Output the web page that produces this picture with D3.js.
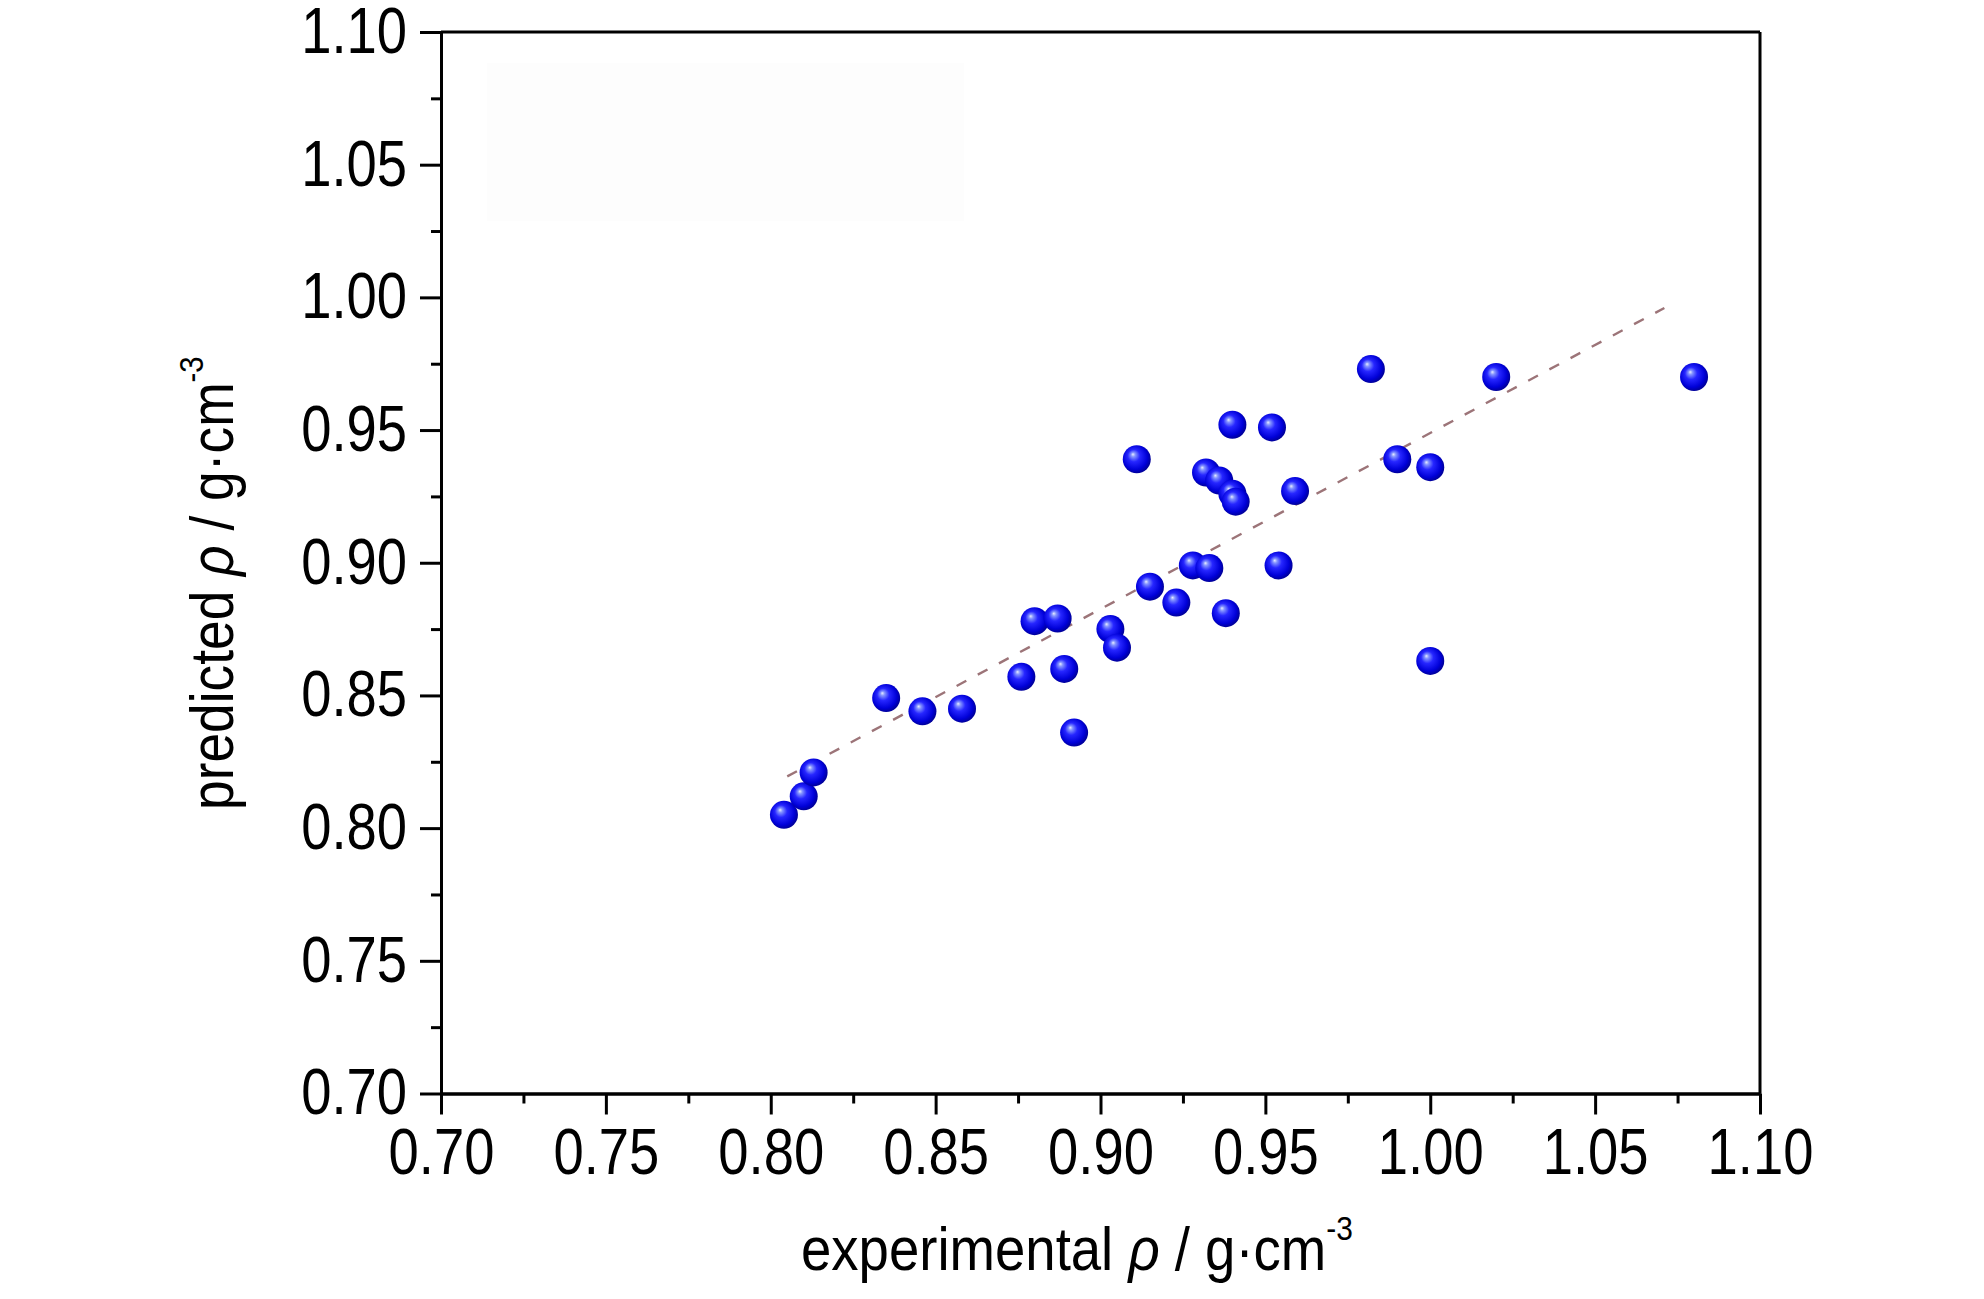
<!DOCTYPE html>
<html>
<head>
<meta charset="utf-8">
<script src="https://cdn.jsdelivr.net/npm/d3@7"></script>
<style>
  html, body { margin: 0; padding: 0; background: #ffffff; }
  svg { display: block; }
  .lbl { font-family: "Liberation Sans Narrow", "Arial Narrow", "Liberation Sans", Arial, sans-serif; fill: #000; }
</style>
</head>
<body>
<svg id="chart" width="1984" height="1299"></svg>
<script>
// ---- data ----
const experimental = [0.804, 0.810, 0.813, 0.835, 0.846, 0.858, 0.876, 0.880, 0.887, 0.889, 0.892,
                      0.903, 0.905, 0.911, 0.915, 0.923, 0.928, 0.933, 0.932, 0.936, 0.940, 0.941,
                      0.940, 0.952, 0.954, 0.938, 0.959, 0.982, 0.990, 1.000, 1.000, 1.020, 1.080];
const predicted    = [0.805, 0.812, 0.821, 0.849, 0.844, 0.845, 0.857, 0.878, 0.879, 0.860, 0.836,
                      0.875, 0.868, 0.939, 0.891, 0.885, 0.899, 0.898, 0.934, 0.931, 0.926, 0.923,
                      0.952, 0.951, 0.899, 0.881, 0.927, 0.973, 0.939, 0.936, 0.863, 0.970, 0.970];
const trendX = [0.805, 1.071];
const trendY = [0.8195, 0.996];
const majorTicks = [0.70, 0.75, 0.80, 0.85, 0.90, 0.95, 1.00, 1.05, 1.10];
const minorTicks = [0.725, 0.775, 0.825, 0.875, 0.925, 0.975, 1.025, 1.075];
const xTitle = "experimental ";
const yTitle = "predicted ";
const rho = "ρ";
const unit = " / g·cm";
const sup = "-3";

const svg = d3.select("#chart");
const L = 441, R = 1760, T = 32, B = 1093.5;
const SX = 0.85; // horizontal condensing of the narrow face
const x = d3.scaleLinear().domain([0.70, 1.10]).range([L, R]);
const y = d3.scaleLinear().domain([0.70, 1.10]).range([B, T]);

// faint remnant box at top-left
svg.append("rect").attr("x", 487).attr("y", 63).attr("width", 477).attr("height", 158)
  .attr("fill", "#fdfdfd");

// defs: sphere gradient
const defs = svg.append("defs");
const g = defs.append("radialGradient").attr("id", "ball")
  .attr("cx", "0.45").attr("cy", "0.45").attr("r", "0.55")
  .attr("fx", "0.36").attr("fy", "0.32");
[["0%", "#e8ecff"], ["14%", "#8494ff"], ["40%", "#2626ff"], ["80%", "#0000d8"], ["100%", "#00009a"]]
  .forEach(([o, c]) => g.append("stop").attr("offset", o).attr("stop-color", c));

// trend line (dashed)
svg.append("line")
  .attr("x1", x(trendX[0])).attr("y1", y(trendY[0]))
  .attr("x2", x(trendX[1])).attr("y2", y(trendY[1]))
  .attr("stroke", "#9c7478").attr("stroke-width", 2.4)
  .attr("stroke-dasharray", "11,13");

// points
const pts = experimental.map((e, i) => ({ e, p: predicted[i] }));
svg.append("g").selectAll("circle").data(pts).join("circle")
  .attr("cx", d => x(d.e)).attr("cy", d => y(d.p)).attr("r", 14)
  .attr("fill", "url(#ball)");

// frame: top and right
svg.append("line").attr("x1", L).attr("x2", R).attr("y1", T).attr("y2", T)
  .attr("stroke", "#000").attr("stroke-width", 3);
svg.append("line").attr("x1", R).attr("x2", R).attr("y1", T).attr("y2", B)
  .attr("stroke", "#000").attr("stroke-width", 3);

// axes
function styleAxis(sel) {
  sel.selectAll("path.domain").attr("stroke", "#000").attr("stroke-width", 3);
  sel.selectAll(".tick line").attr("stroke", "#000").attr("stroke-width", 3);
  sel.selectAll(".tick text").attr("class", "lbl").attr("font-size", 64)
     .attr("font-family", null).attr("fill", "#000");
}
const fmt = d3.format(".2f");

const yMinor = svg.append("g").attr("transform", `translate(${L},0)`)
  .call(d3.axisLeft(y).tickValues(minorTicks).tickSize(10).tickSizeOuter(0).tickFormat(""));
styleAxis(yMinor);
const yMajor = svg.append("g").attr("transform", `translate(${L},0)`)
  .call(d3.axisLeft(y).tickValues(majorTicks).tickSize(21).tickSizeOuter(0).tickPadding(13).tickFormat(fmt));
styleAxis(yMajor);
yMajor.selectAll(".tick text").each(function () {
  const t = d3.select(this);
  const xv = +t.attr("x");
  t.attr("x", xv / SX).attr("transform", `scale(${SX},1)`);
});

const xMinor = svg.append("g").attr("transform", `translate(0,${B})`)
  .call(d3.axisBottom(x).tickValues(minorTicks).tickSize(10).tickSizeOuter(0).tickFormat(""));
styleAxis(xMinor);
const xMajor = svg.append("g").attr("transform", `translate(0,${B})`)
  .call(d3.axisBottom(x).tickValues(majorTicks).tickSize(21).tickSizeOuter(0).tickPadding(14).tickFormat(fmt));
styleAxis(xMajor);
xMajor.selectAll(".tick text").attr("transform", `scale(${SX},1)`);

// axis titles
const xg = svg.append("g").attr("transform", `translate(801,1270) scale(0.88,1)`);
const xt = xg.append("text").attr("class", "lbl").attr("font-size", 62);
xt.append("tspan").text(xTitle);
xt.append("tspan").attr("font-style", "italic").attr("font-family", "'Liberation Sans', Arial, sans-serif").text(rho);
xt.append("tspan").text(unit);
xt.append("tspan").attr("font-size", 34).attr("dy", -30).text(sup);

const yg = svg.append("g").attr("transform", "translate(233,810) rotate(-90) scale(0.86,1)");
const yt = yg.append("text").attr("class", "lbl").attr("font-size", 62);
yt.append("tspan").text(yTitle);
yt.append("tspan").attr("font-style", "italic").attr("font-family", "'Liberation Sans', Arial, sans-serif").text(rho);
yt.append("tspan").text(unit);
yt.append("tspan").attr("font-size", 34).attr("dy", -30).text(sup);
</script>
</body>
</html>
